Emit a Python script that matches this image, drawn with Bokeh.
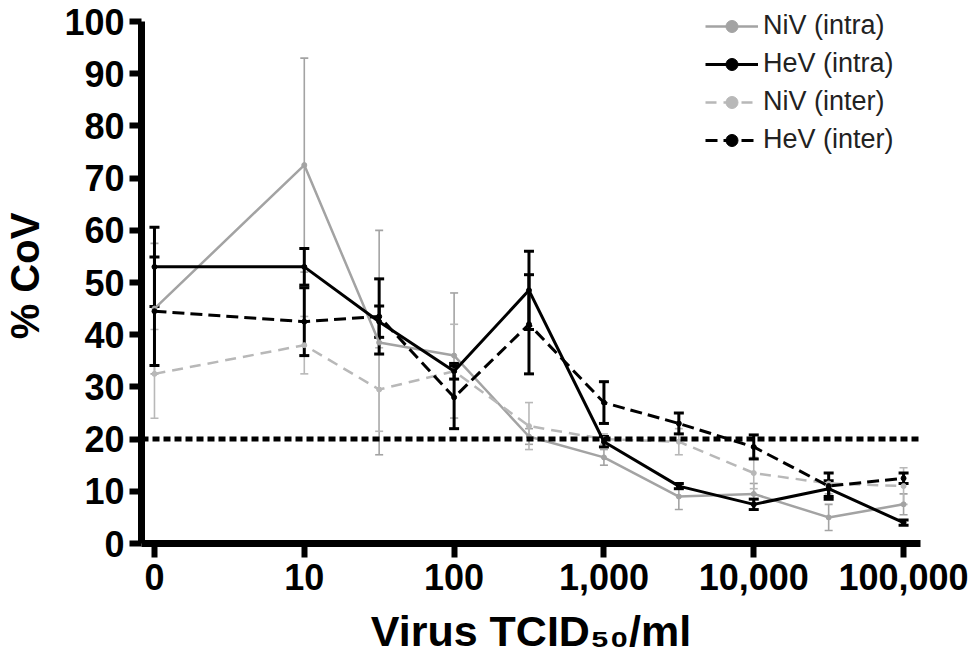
import math
from bokeh.plotting import figure
from bokeh.models import (ColumnDataSource, Whisker, TeeHead, Range1d, FixedTicker,
                          Span, Legend, LegendItem)
from bokeh.embed import file_html
from bokeh.resources import INLINE

# ---------------- data ----------------
virus_titre = [0, 10, 31.6, 100, 316, 1000, 3162, 10000, 31623, 100000]
niv_intra = [45, 72.5, 38.5, 36, 20.5, 16.5, 9, 9.5, 5, 7.5]
niv_intra_err = [12.5, 20.5, 21.5, 12, 1.5, 1.5, 2.5, 2, 2.5, 2]
hev_intra = [53, 53, 42.5, 33, 48.5, 19.5, 11, 7.5, 10.5, 4]
hev_intra_err = [7.6, 3.5, 3, 1.5, 7.5, 1, 0.5, 1, 1.5, 0.5]
niv_inter = [32.5, 38, 29.5, 33, 22.5, 20, 19.5, 13.5, 11.5, 11]
niv_inter_err = [8.5, 5.5, 8, 9, 4.5, 1, 2.5, 3, 2, 3.5]
hev_inter = [44.5, 42.5, 43.5, 28, 42, 27, 23, 18.5, 11, 12.5]
hev_inter_err = [10.4, 6.5, 7.2, 6, 9.5, 4, 2, 2.3, 2.5, 1]
threshold = 20
tick_titres = [1, 10, 100, 1000, 10000, 100000]
tick_labels = ["0", "10", "100", "1,000", "10,000", "100,000"]
y_ticks = list(range(0, 101, 10))

# "0" is plotted at the position of 1 on the log axis
xpos = [0.0 if t == 0 else math.log10(t) for t in virus_titre]
tick_pos = [math.log10(t) for t in tick_titres]

FONT = "Liberation Sans"

p = figure(width=970, height=661, output_backend="svg", toolbar_location=None,
           x_range=Range1d(-0.0866, 5.113), y_range=Range1d(0, 102.5),
           min_border_left=139, min_border_right=50, min_border_top=8,
           min_border_bottom=118)
p.outline_line_color = None
p.grid.visible = False
p.background_fill_color = "white"

series = [
    ("NiV (intra)", niv_intra, niv_intra_err, "#a3a3a3", None, 2.5, 1.6, 8),
    ("NiV (inter)", niv_inter, niv_inter_err, "#b8b8b8", "11 7", 2.5, 1.6, 8),
    ("HeV (intra)", hev_intra, hev_intra_err, "#000000", None, 3, 3, 10),
    ("HeV (inter)", hev_inter, hev_inter_err, "#000000", "12 6", 3, 3, 10),
]

items = {}
for name, vals, errs, color, dash, lw, elw, cap in series:
    src = ColumnDataSource(dict(
        x=xpos, y=vals,
        upper=[v + e for v, e in zip(vals, errs)],
        lower=[v - e for v, e in zip(vals, errs)]))
    w = Whisker(source=src, base="x", upper="upper", lower="lower",
                dimension="height", line_color=color, line_width=elw,
                upper_head=TeeHead(size=cap, line_color=color, line_width=elw),
                lower_head=TeeHead(size=cap, line_color=color, line_width=elw))
    p.add_layout(w)
    kw = dict(line_color=color, line_width=lw)
    if dash:
        kw["line_dash"] = dash
    lr = p.line("x", "y", source=src, **kw)
    mr = p.scatter("x", "y", source=src, size=5, marker="circle",
                   fill_color=color, line_color=color)
    items[name] = [lr, mr]

p.add_layout(Span(location=threshold, dimension="width", line_color="black",
                  line_width=5, line_dash="7 4"))

legend = Legend(items=[LegendItem(label=n, renderers=items[n]) for n in
                       ["NiV (intra)", "HeV (intra)", "NiV (inter)", "HeV (inter)"]],
                location=(564, 388))
legend.label_text_font = FONT
legend.label_text_font_size = "27px"
legend.label_text_color = "#222222"
legend.glyph_width = 53
legend.glyph_height = 30
legend.label_height = 30
legend.label_standoff = 5
legend.spacing = 7
legend.padding = 0
legend.margin = 0
legend.border_line_alpha = 0
legend.background_fill_alpha = 0
p.add_layout(legend)

# axes
for ax in (p.xaxis[0], p.yaxis[0]):
    ax.axis_line_width = 7
    ax.axis_line_color = "black"
    ax.major_tick_line_width = 6
    ax.major_tick_line_color = "black"
    ax.minor_tick_line_color = None
    ax.major_tick_in = 0
    ax.major_label_text_font = FONT
    ax.major_label_text_font_style = "bold"
    ax.major_label_text_font_size = "36px"
    ax.major_label_text_color = "black"
    ax.axis_label_text_font = FONT
    ax.axis_label_text_font_style = "bold"
    ax.axis_label_text_color = "black"

p.xaxis.ticker = FixedTicker(ticks=tick_pos)
p.xaxis.major_label_overrides = {tp: lab for tp, lab in zip(tick_pos, tick_labels)}
p.xaxis.major_tick_out = 14
p.xaxis.major_label_standoff = 6
p.xaxis.axis_label = "Virus TCID\u2085\u2080/ml"
p.xaxis.axis_label_text_font_size = "43px"
p.xaxis.axis_label_standoff = 14

p.yaxis.ticker = FixedTicker(ticks=y_ticks)
p.yaxis.bounds = (0, 100)
p.yaxis.major_tick_out = 12
p.yaxis.major_label_standoff = 5
p.yaxis.axis_label = "% CoV"
p.yaxis.axis_label_text_font_size = "40px"
p.yaxis.axis_label_standoff = 14

open("out.html", "w").write(file_html(p, INLINE))
